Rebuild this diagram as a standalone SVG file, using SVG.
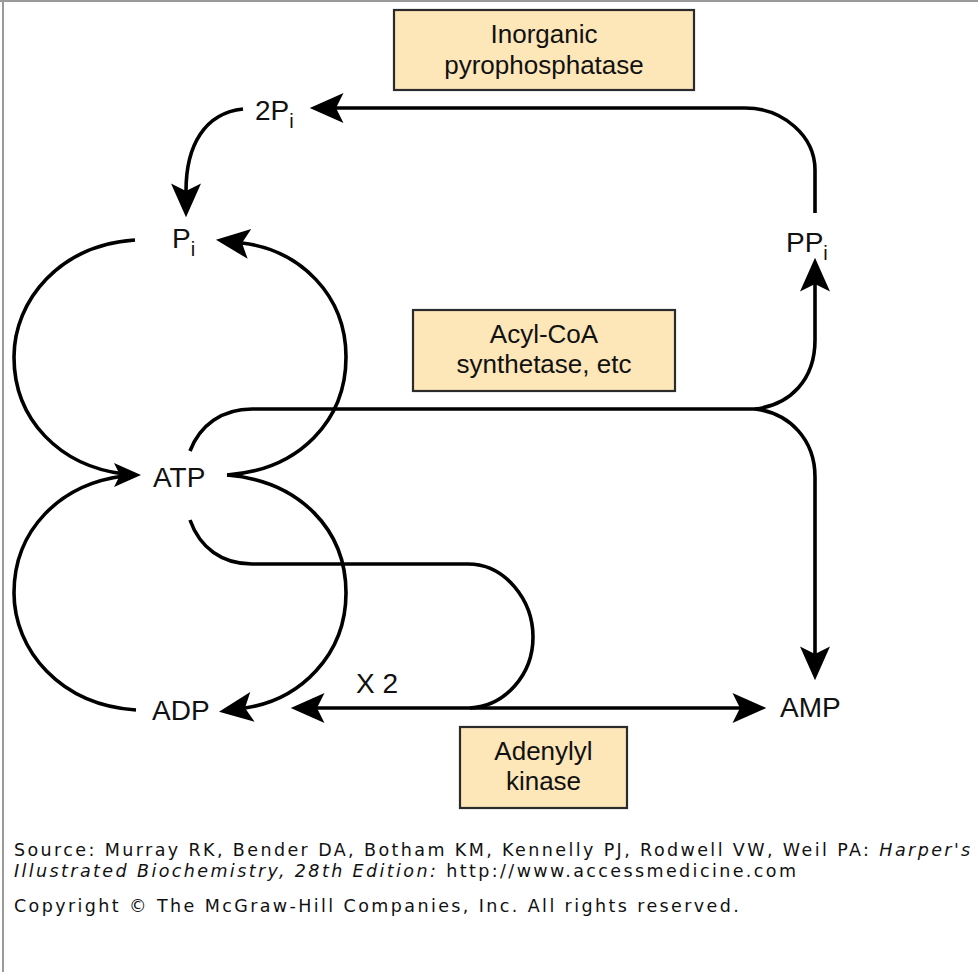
<svg xmlns="http://www.w3.org/2000/svg" width="978" height="972" viewBox="0 0 978 972">
<defs>
<style>
.c{fill:none;stroke:#000;stroke-width:3.6;stroke-linecap:butt}
.ah{fill:#000}
.box{fill:#FDE6B8;stroke:#2b2b2b;stroke-width:2.2}
.lbl{font-family:"Liberation Sans",Arial,sans-serif;font-size:28px;fill:#111}
.bt{font-family:"Liberation Sans",Arial,sans-serif;font-size:26px;fill:#111;text-anchor:middle}
.sub{font-size:20px}
.ft{font-family:"DejaVu Sans",Verdana,sans-serif;font-size:17.5px;fill:#111;letter-spacing:2.4px}
</style>
<marker id="arr" markerUnits="userSpaceOnUse" markerWidth="40" markerHeight="40" refX="6" refY="0" viewBox="-2 -14 32 28" orient="auto-start-reverse">
<path d="M27,0 L0,-12 L6,0 L0,12 Z" fill="#000"/>
</marker>
</defs>
<rect x="0" y="0" width="978" height="972" fill="#fff"/>
<rect x="0" y="0" width="978" height="2" fill="#9a9a9a"/>
<rect x="2" y="0" width="2" height="972" fill="#9a9a9a"/>

<g id="connectors">
<path class="c" d="M243 109 C205 113 186 145 186 191" marker-end="url(#arr)"/>
<path class="c" d="M815 213 L815 170 C815 136 783 108 745 108 L336 108" marker-end="url(#arr)"/>
<path class="c" d="M135 240 C60 245 14 300 14 357 C14 420 60 466 124 474"/>
<path class="c" d="M136 710 C60 705 14 650 14 593 C14 530 60 484 124 476"/>
<path class="ah" d="M141 475 L114 463 L120 475 L114 487 Z"/>
<path class="c" d="M227 475 C300 470 346 420 346 357 C346 295 300 250 242 243" marker-end="url(#arr)"/>
<path class="c" d="M227 475 C300 481 346 530 346 593 C346 655 300 700 245 708" marker-end="url(#arr)"/>
<path class="c" d="M190 451 C200 425 222 409 252 409 L755 409"/>
<path class="c" d="M755 409 C790 405 815 380 815 340 L815 284" marker-end="url(#arr)"/>
<path class="c" d="M755 409 C790 413 815 440 815 477 L815 654" marker-end="url(#arr)"/>
<path class="c" d="M190 520 C200 548 222 564 252 564 L468 564 C505 564 533 600 533 637 C533 675 505 706 470 708"/>
<path class="c" d="M317 708 L740 708" marker-start="url(#arr)" marker-end="url(#arr)"/>
</g>

<g id="box-pyrophosphatase">
<rect class="box" x="394" y="10" width="300" height="80"/>
<text class="bt" x="544" y="43">Inorganic</text>
<text class="bt" x="544" y="74">pyrophosphatase</text>
</g>
<g id="box-acylcoa">
<rect class="box" x="413" y="310" width="262" height="81"/>
<text class="bt" x="544" y="343">Acyl-CoA</text>
<text class="bt" x="544" y="373">synthetase, etc</text>
</g>
<g id="box-adenylyl">
<rect class="box" x="460" y="727" width="167" height="81"/>
<text class="bt" x="543.5" y="760">Adenylyl</text>
<text class="bt" x="543.5" y="790">kinase</text>
</g>

<g id="node-2Pi"><text class="lbl" x="255" y="120">2P<tspan class="sub" dy="8">i</tspan></text></g>
<g id="node-Pi"><text class="lbl" x="172" y="248">P<tspan class="sub" dy="8">i</tspan></text></g>
<g id="node-PPi"><text class="lbl" x="786" y="252">PP<tspan class="sub" dy="8">i</tspan></text></g>
<g id="node-ATP"><text class="lbl" x="153" y="487">ATP</text></g>
<g id="node-ADP"><text class="lbl" x="152" y="720">ADP</text></g>
<g id="node-AMP"><text class="lbl" x="780" y="717">AMP</text></g>
<g id="label-x2"><text class="lbl" x="356" y="693">X 2</text></g>

<g id="footer">
<text class="ft" x="14" y="856">Source: Murray RK, Bender DA, Botham KM, Kennelly PJ, Rodwell VW, Weil PA: <tspan font-style="italic">Harper's</tspan></text>
<text class="ft" x="14" y="877"><tspan font-style="italic">Illustrated Biochemistry, 28th Edition:</tspan> http://www.accessmedicine.com</text>
<text class="ft" x="14" y="912">Copyright © The McGraw-Hill Companies, Inc. All rights reserved.</text>
</g>
</svg>
